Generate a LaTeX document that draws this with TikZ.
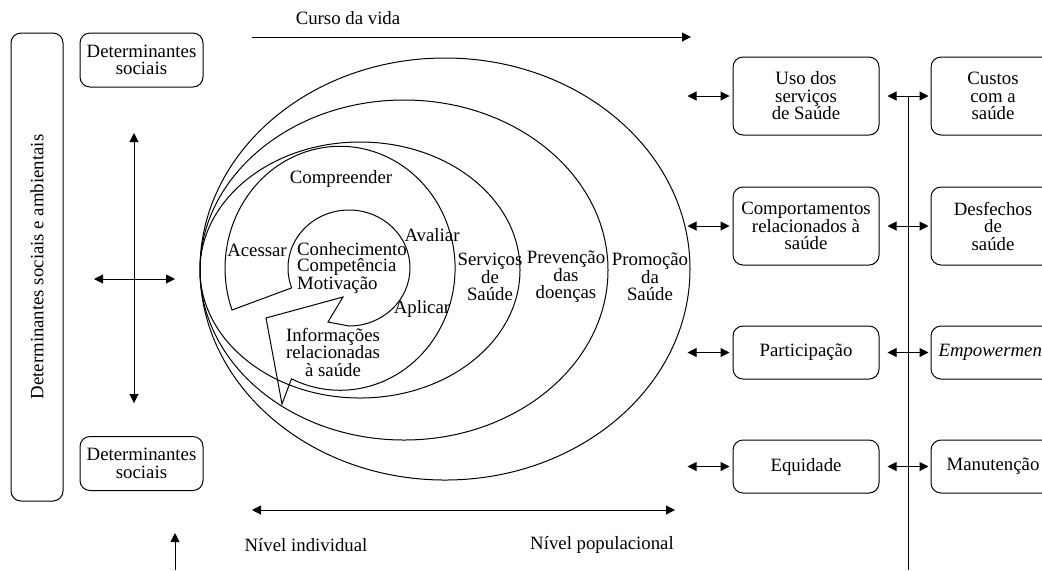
\documentclass[tikz,border=0pt]{standalone}
\usepackage{fontspec}
\setmainfont{Liberation Serif}
\usetikzlibrary{positioning, arrows.meta}

\begin{document}
\begin{tikzpicture}[x=0.5pt, y=0.5pt, line width=0.5pt,
        >={Triangle[length=4.5pt, width=4.5pt]},
        every node/.style={font=\fontsize{9.4}{8.75}\selectfont, align=center, inner sep=2pt},
        box/.style={draw, rounded corners=5pt, minimum width=73pt, minimum height=26.5pt},
        tall/.style={minimum height=39pt},
        narrow/.style={minimum width=62pt}]
        \useasboundingbox (0,0) rectangle (1042,-570);

        \node[box, rotate=90, minimum width=234pt, minimum height=26pt] (amb) at (37,-267) {Determinantes sociais e ambientais};
        \node[box, minimum width=61.5pt, minimum height=27pt] (ds) at (141.5,-60) {Determinantes\\sociais};
        \node[box, minimum width=61.5pt, minimum height=27pt] (dsb) at (141.5,-463.5) {Determinantes\\sociais};

        \coordinate (vt) at (134,-133);
        \coordinate (vb) at (134,-403);
        \coordinate (hl) at (94,-279);
        \coordinate (hr) at (175,-279);
        \coordinate (up1) at (175,-570);
        \coordinate (up2) at (175,-533);
        \draw[<->] (vt) -- (vb);
        \draw[<->] (hl) -- (hr);
        \draw[->] (up1) -- (up2);

        \draw (445,-269) ellipse [x radius=245, y radius=211];
        \draw (404,-270) ellipse [x radius=204, y radius=170];
        \draw (360,-270) ellipse [x radius=160, y radius=128];
        \draw (232,-310) arc[start angle=200, end angle=-115, x radius=115, y radius=122]
            -- (282,-404) -- (266,-318) -- (343,-297) -- (328,-322) -- (349,-326)
            arc[start angle=-90, end angle=200, x radius=61, y radius=58] -- cycle;

        \node (ac) at (257,-250.5) {Acessar};
        \node (co) at (341,-178.5) {Compreender};
        \node (av) at (432,-235.5) {Avaliar};
        \node (ap) at (422,-308.5) {Aplicar};
        \node[align=left, font=\fontsize{9.4}{8}\selectfont] (core) at (352,-268) {Conhecimento\\Competência\\Motivação};
        \node (info) at (333,-352) {Informações\\relacionadas\\à saúde};
        \node (serv) at (490,-277) {Serviços\\de\\Saúde};
        \node (prev) at (566,-277) {Prevenção\\das\\doenças};
        \node (prom) at (650,-277) {Promoção\\da\\Saúde};

        \node (curso) at (348,-18) {Curso da vida};
        \coordinate (cv1) at (252,-37);
        \coordinate (cv2) at (691,-37);
        \draw[->] (cv1) -- (cv2);

        \coordinate (ni1) at (252,-510);
        \coordinate (ni2) at (675,-510);
        \draw[<->] (ni1) -- (ni2);
        \node (ind) at (306,-545) {Nível individual};
        \node (pop) at (602,-545) {Nível populacional};

        \node[box, tall] (uso) at (806,-96) {Uso dos\\serviços\\de Saúde};
        \node[box, tall, below = 25.5pt of uso] (comp) {Comportamentos\\relacionados à\\saúde};
        \node[box, below = 30pt of comp] (part) {Participação};
        \node[box, below = 30pt of part] (equi) {Equidade};
        \node[box, tall, narrow, right = 25.5pt of uso] (cust) {Custos\\com a\\saúde};
        \node[box, tall, narrow, right = 25.5pt of comp] (desf) {Desfechos\\de\\saúde};
        \node[box, narrow, right = 25.5pt of part] (emp) {\textit{Empowerment}};
        \node[box, narrow, right = 25.5pt of equi] (manu) {Manutenção};

        \coordinate (vtop) at (908,-96);
        \coordinate (vbot) at (908,-570);
        \draw (vtop) -- (vbot);
        \foreach \a/\b in {uso/cust, comp/desf, part/emp, equi/manu} {
            \coordinate (\a-l) at ([xshift=-22.5pt]\a.west);
            \draw[<->, shorten >=1.5pt] (\a-l) -- (\a);
            \draw[<->, shorten <=4pt, shorten >=1pt] (\a) -- (\b);
        }
\end{tikzpicture}
\end{document}
